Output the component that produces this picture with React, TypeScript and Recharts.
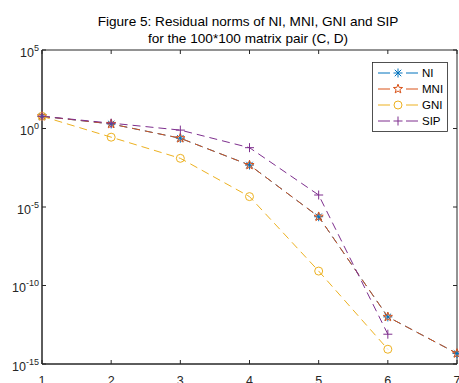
import { LineChart, Line, XAxis, YAxis, ReferenceArea } from "recharts"

// iteration index
const steps = [1, 2, 3, 4, 5, 6, 7]
// residual norms
const niNorms = [6.0, 1.95, 0.24, 4.7e-3, 2.4e-6, 1.0e-12, 4.7e-15]
const mniNorms = [6.0, 1.95, 0.24, 4.7e-3, 2.4e-6, 1.0e-12, 4.7e-15]
const gniNorms = [6.0, 0.28, 0.0126, 4.6e-5, 8.3e-10, 8.7e-15]
const sipNorms = [6.0, 2.2, 0.79, 0.06, 5.8e-5, 7.9e-14]
const yTicks = [1e-15, 1e-10, 1e-5, 1e0, 1e5]

const data = steps.map((x, i) => ({
  x,
  ni: niNorms[i],
  mni: mniNorms[i],
  gni: gniNorms[i],
  sip: sipNorms[i],
}))

const W = 459
const H = 383
const PLOT = { left: 42, right: 457, top: 50, bottom: 364 }
const AXIS = "#262626"
const DASH = "8 5"
const FONT = "Liberation Sans, Arial, sans-serif"

const series = [
  { key: "ni", name: "NI", color: "#0072BD", marker: "asterisk" },
  { key: "mni", name: "MNI", color: "#D95319", marker: "pentagram" },
  { key: "gni", name: "GNI", color: "#EDB120", marker: "circle" },
  { key: "sip", name: "SIP", color: "#7E2F8E", marker: "plus" },
]

function Marker({ type, cx, cy, color }: { type: string; cx: number; cy: number; color: string }) {
  const r = 4.5
  if (type === "circle") {
    return <circle cx={cx} cy={cy} r={4} fill="none" stroke={color} strokeWidth={1} />
  }
  if (type === "plus") {
    return (
      <g stroke={color} strokeWidth={1}>
        <line x1={cx - r} y1={cy} x2={cx + r} y2={cy} />
        <line x1={cx} y1={cy - r} x2={cx} y2={cy + r} />
      </g>
    )
  }
  if (type === "asterisk") {
    const d = r * 0.72
    return (
      <g stroke={color} strokeWidth={1}>
        <line x1={cx - r} y1={cy} x2={cx + r} y2={cy} />
        <line x1={cx} y1={cy - r} x2={cx} y2={cy + r} />
        <line x1={cx - d} y1={cy - d} x2={cx + d} y2={cy + d} />
        <line x1={cx - d} y1={cy + d} x2={cx + d} y2={cy - d} />
      </g>
    )
  }
  // pentagram
  const pts: string[] = []
  for (let i = 0; i < 10; i++) {
    const rad = i % 2 === 0 ? 4.8 : 2
    const a = -Math.PI / 2 + (i * Math.PI) / 5
    pts.push(`${cx + rad * Math.cos(a)},${cy + rad * Math.sin(a)}`)
  }
  return <polygon points={pts.join(" ")} fill="none" stroke={color} strokeWidth={1} />
}

function XTick(props: any) {
  const { x, payload } = props
  return (
    <g>
      <line x1={x} y1={PLOT.bottom} x2={x} y2={PLOT.bottom - 4} stroke={AXIS} />
      <line x1={x} y1={PLOT.top} x2={x} y2={PLOT.top + 4} stroke={AXIS} />
      <text x={x} y={PLOT.bottom + 21} textAnchor="middle" fontSize={12.5} fill={AXIS} fontFamily={FONT}>
        {payload.value}
      </text>
    </g>
  )
}

function YTick(props: any) {
  const { y, payload } = props
  const exp = Math.round(Math.log10(payload.value))
  return (
    <g>
      <line x1={PLOT.left} y1={y} x2={PLOT.left + 4} y2={y} stroke={AXIS} />
      <line x1={PLOT.right} y1={y} x2={PLOT.right - 4} y2={y} stroke={AXIS} />
      <text x={39} y={y + 6.5} textAnchor="end" fontSize={12.5} fill={AXIS} fontFamily={FONT}>
        <tspan>10</tspan>
        <tspan dy={-6} fontSize={9}>{exp}</tspan>
      </text>
    </g>
  )
}

function LegendBox() {
  const rows = [73, 89, 105, 121]
  return (
    <svg width={W} height={H} style={{ position: "absolute", left: 0, top: 0, pointerEvents: "none" }}>
      <rect x={372.5} y={62.5} width={75} height={69} fill="#fff" stroke={AXIS} strokeWidth={0.8} />
      {series.map((s, i) => (
        <g key={s.key}>
          <line x1={378} y1={rows[i]} x2={390} y2={rows[i]} stroke={s.color} />
          <line x1={406} y1={rows[i]} x2={418} y2={rows[i]} stroke={s.color} />
          <Marker type={s.marker} cx={398} cy={rows[i]} color={s.color} />
          <text x={422} y={rows[i] + 4} fontSize={11.5} fill="#000" fontFamily={FONT}>
            {s.name}
          </text>
        </g>
      ))}
    </svg>
  )
}

export default function App() {
  return (
    <div style={{ position: "absolute", left: 0, top: 0, width: W, height: H, background: "#fff", overflow: "hidden" }}>
      <div style={{ position: "absolute", left: 0, width: 496, textAlign: "center", fontFamily: FONT, fontSize: 13.6, color: "#000", lineHeight: "17px", top: 13 }}>
        <div>Figure 5: Residual norms of NI, MNI, GNI and SIP</div>
        <div>for the 100*100 matrix pair (C, D)</div>
      </div>
      <div style={{ position: "absolute", left: 0, top: 0 }}>
        <LineChart
          width={W}
          height={H}
          data={data}
          margin={{ top: PLOT.top, left: PLOT.left - 1, right: W - PLOT.right, bottom: H - PLOT.bottom - 1 }}
        >
          <XAxis
            dataKey="x"
            type="number"
            domain={[1, 7]}
            ticks={steps}
            height={1}
            tickSize={0}
            tickLine={false}
            axisLine={{ stroke: AXIS }}
            tick={<XTick />}
            interval={0}
          />
          <YAxis
            scale="log"
            domain={[1e-15, 1e5]}
            ticks={yTicks}
            width={1}
            tickSize={0}
            tickLine={false}
            axisLine={{ stroke: AXIS }}
            tick={<YTick />}
            interval={0}
            allowDataOverflow
          />
          <ReferenceArea x1={1} x2={7} y1={1e-15} y2={1e5} fill="none" stroke={AXIS} strokeWidth={1} />
          {series.map((s) => (
            <Line
              key={s.key}
              dataKey={s.key}
              stroke={s.color}
              strokeWidth={1}
              strokeDasharray={DASH}
              isAnimationActive={false}
              connectNulls={false}
              dot={(p: any) =>
                p.cy == null || p.value == null ? (
                  <g key={`${s.key}-${p.index}`} />
                ) : (
                  <g key={`${s.key}-${p.index}`}>
                    <Marker type={s.marker} cx={p.cx} cy={p.cy} color={s.color} />
                  </g>
                )
              }
              activeDot={false}
            />
          ))}
        </LineChart>
      </div>
      <LegendBox />
    </div>
  )
}
